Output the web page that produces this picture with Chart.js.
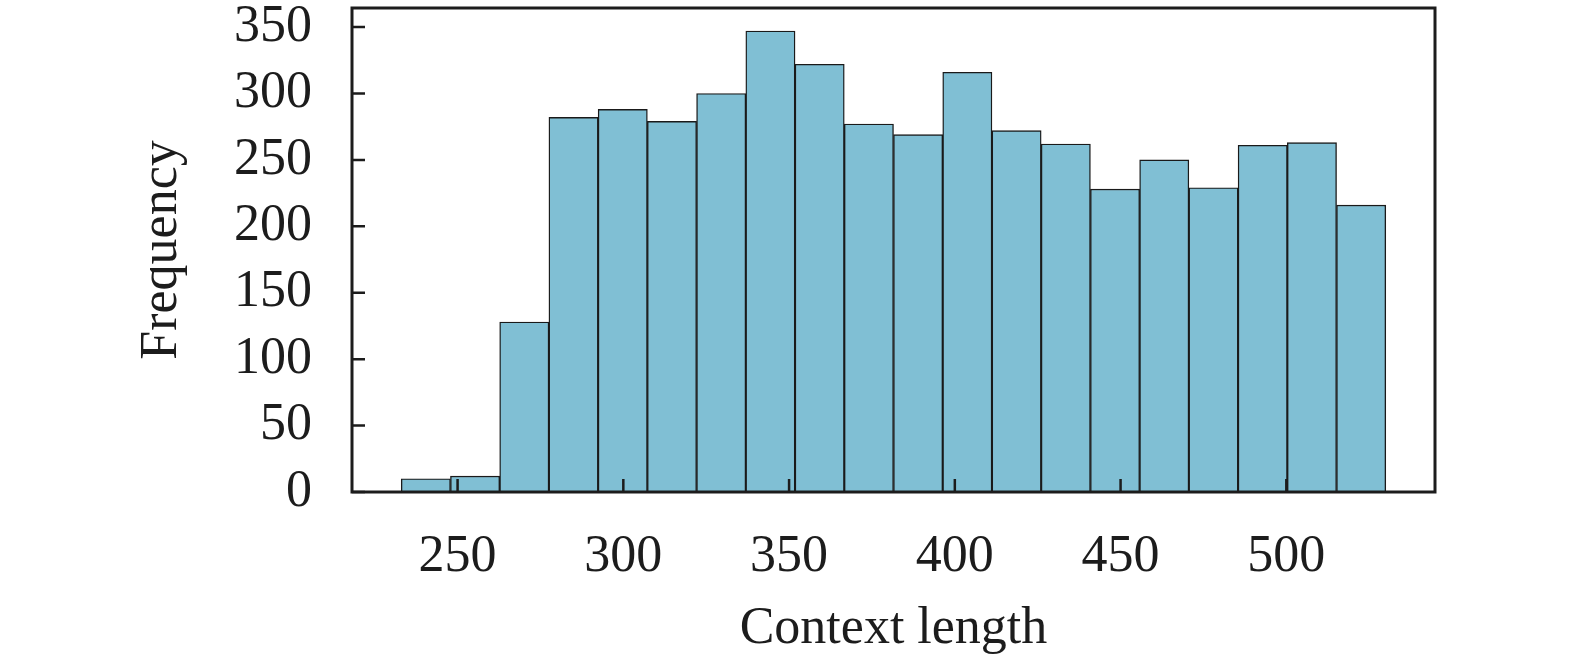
<!DOCTYPE html>
<html>
<head>
<meta charset="utf-8">
<script src="https://cdn.jsdelivr.net/npm/chart.js@4.4.0/dist/chart.umd.min.js"></script>
<style>
  body { margin: 0; background: #fff; }
  #wrap { width: 1575px; height: 667px; }
</style>
</head>
<body>
<div id="wrap"><canvas id="context-length-hist"></canvas></div>
<script>
const binEdges = [233, 247.85, 262.7, 277.55, 292.4, 307.25, 322.1, 336.95, 351.8, 366.65, 381.5,
                  396.35, 411.2, 426.05, 440.9, 455.75, 470.6, 485.45, 500.3, 515.15, 530];
const counts = [10, 12, 128, 282, 288, 279, 300, 347, 322, 277, 269, 316, 272, 262, 228, 250, 229, 261, 263, 216];
const xTicks = [250, 300, 350, 400, 450, 500];
const yTicks = [0, 50, 100, 150, 200, 250, 300, 350];

const histCanvas = document.getElementById('context-length-hist');
const serif = 'Liberation Serif';
const ink = '#1c1c1c';

const barPoints = counts.map((c, i) => ({ x: (binEdges[i] + binEdges[i + 1]) / 2, y: c }));

// ticks pointing inward plus a full box around the plot
const frameAndTicks = {
    id: 'frameAndTicks',
    afterDatasetsDraw(chart) {
        const ctx = chart.ctx;
        const area = chart.chartArea;
        const xs = chart.scales.x;
        const ys = chart.scales.y;
        ctx.save();
        ctx.strokeStyle = ink;
        ctx.lineWidth = 2.5;
        ctx.beginPath();
        xTicks.forEach(v => {
            const px = xs.getPixelForValue(v);
            ctx.moveTo(px, area.bottom);
            ctx.lineTo(px, area.bottom - 13);
        });
        yTicks.forEach(v => {
            const py = ys.getPixelForValue(v);
            ctx.moveTo(area.left, py);
            ctx.lineTo(area.left + 13, py);
        });
        ctx.stroke();
        ctx.lineWidth = 3;
        ctx.strokeRect(area.left, area.top, area.right - area.left, area.bottom - area.top);
        ctx.restore();
    }
};

new Chart(histCanvas, {
    type: 'bar',
    data: {
        datasets: [{
            label: 'Frequency',
            data: barPoints,
            backgroundColor: 'rgb(128, 191, 212)',
            borderColor: '#1a1a1a',
            borderWidth: 1.4,
            barPercentage: 1,
            categoryPercentage: 1
        }]
    },
    options: {
        responsive: true,
        maintainAspectRatio: false,
        animation: false,
        layout: { padding: { left: 131, right: 140, top: 8, bottom: 6 } },
        plugins: {
            legend: { display: false },
            tooltip: { enabled: false }
        },
        scales: {
            x: {
                type: 'linear',
                offset: false,
                min: 218.15,
                max: 544.85,
                afterBuildTicks: scale => { scale.ticks = xTicks.map(v => ({ value: v })); },
                afterFit: scale => {
                    scale.height = 169;
                    scale.paddingLeft = 0;
                    scale.paddingRight = 0;
                },
                grid: { display: false, drawTicks: false, offset: false },
                border: { display: false },
                ticks: {
                    color: ink,
                    padding: 34,
                    maxRotation: 0,
                    autoSkip: false,
                    font: { family: serif, size: 52 }
                },
                title: {
                    display: true,
                    text: 'Context length',
                    color: ink,
                    padding: 0,
                    font: { family: serif, size: 52 }
                }
            },
            y: {
                min: 0,
                max: 364.35,
                afterBuildTicks: scale => { scale.ticks = yTicks.map(v => ({ value: v })); },
                afterFit: scale => {
                    scale.width = 221;
                    scale.paddingTop = 0;
                    scale.paddingBottom = 0;
                },
                grid: { display: false, drawTicks: false },
                border: { display: false },
                ticks: {
                    color: ink,
                    padding: 40,
                    autoSkip: false,
                    font: { family: serif, size: 52 }
                },
                title: {
                    display: true,
                    text: 'Frequency',
                    color: ink,
                    padding: 0,
                    font: { family: serif, size: 52 }
                }
            }
        }
    },
    plugins: [frameAndTicks]
});
</script>
</body>
</html>
